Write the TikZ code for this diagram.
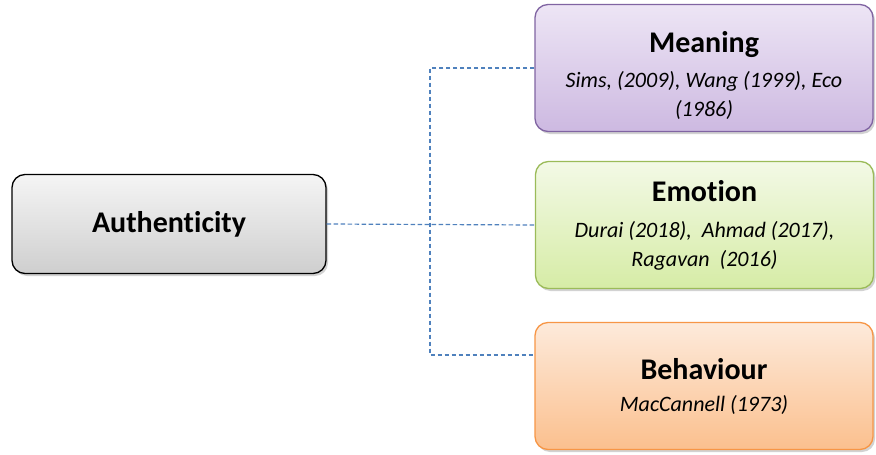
\documentclass[tikz,border=0pt]{standalone}
\usepackage{fontspec}
\setmainfont{Carlito}[Ligatures={NoCommon}]
\usetikzlibrary{shadows}

\definecolor{linkblue}{HTML}{4F81BD}
\definecolor{meanline}{HTML}{8064A2}
\definecolor{meantop}{HTML}{EDE5F5}
\definecolor{meanbot}{HTML}{CDB9E1}
\definecolor{emoline}{HTML}{9BBB59}
\definecolor{emotop}{HTML}{F3F9E6}
\definecolor{emobot}{HTML}{D6ECA6}
\definecolor{behline}{HTML}{F79646}
\definecolor{behtop}{HTML}{FDEADB}
\definecolor{behbot}{HTML}{FBC08E}

\tikzset{
  box/.style={rounded corners=13pt, line width=1.3pt, align=center,
    drop shadow={shadow xshift=2pt, shadow yshift=-2.5pt, opacity=0.35}},
  leaf/.style={box, minimum width=338pt, minimum height=127pt,
    font=\fontsize{22}{29}\selectfont\itshape},
  link/.style={draw=linkblue, line width=1.2pt, dash pattern=on 4.5pt off 2.5pt},
}
\newcommand{\boxtitle}[1]{{\fontsize{30}{34}\selectfont\bfseries\upshape #1}}

\begin{document}
\begin{tikzpicture}[x=1pt, y=-1pt]
    \useasboundingbox[fill=white] (0,0) rectangle (876,455);

    \node[box, draw=black, top color=gray!8, bottom color=gray!38,
      minimum width=314pt, minimum height=99pt] (auth) at (169,224)
      {\boxtitle{Authenticity}};

    \node[leaf, draw=meanline, top color=meantop, bottom color=meanbot] (mean) at (704,68)
      {\rule{0pt}{36pt}\boxtitle{Meaning}\\[6pt]
       Sims, (2009), Wang (1999), Eco\\ (1986)};

    \node[leaf, draw=emoline, top color=emotop, bottom color=emobot] (emo) at (704.5,225)
      {\boxtitle{Emotion}\\[7pt]
       Durai (2018),\ \ Ahmad (2017),\\ Ragavan\ \ (2016)};

    \node[leaf, draw=behline, top color=behtop, bottom color=behbot] (beh) at (704,386)
      {\boxtitle{Behaviour}\\[3pt]
       MacCannell (1973)};

    \coordinate (low) at (430,355);

    \draw[link] (auth.east) -- (emo.west);
    \draw[link] (mean.west) -| (low) -- (beh.west |- low);

\end{tikzpicture}
\end{document}
